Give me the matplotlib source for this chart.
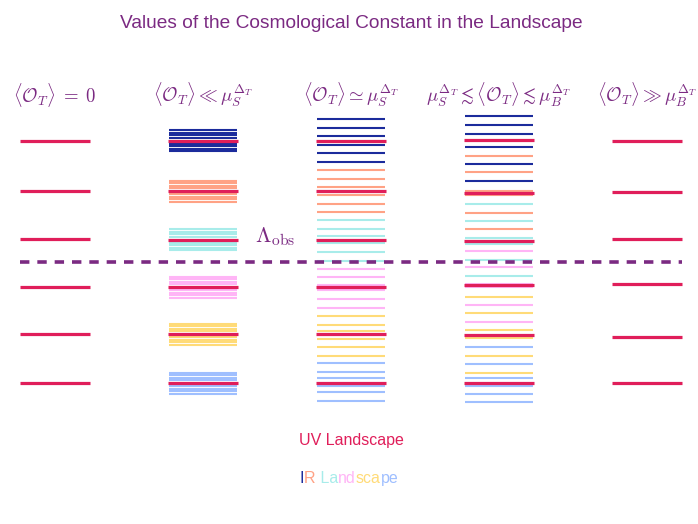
import numpy as np
import matplotlib
matplotlib.use("Agg")
import matplotlib.pyplot as plt

plt.rcParams['font.family'] = ['Liberation Sans', 'DejaVu Sans']
plt.rcParams['mathtext.fontset'] = 'cm'

# energy levels relative to the observed value (Lambda_obs = 0)
uv_levels = [
    [121.3, 71.3, 23.3, -25.0, -72.0, -120.7],
    [121.3, 71.0, 22.3, -25.3, -72.3, -121.3],
    [121.3, 70.7, 22.0, -24.7, -72.3, -120.7],
    [121.7, 69.0, 21.3, -23.0, -73.3, -121.0],
    [121.0, 69.7, 23.3, -22.3, -74.7, -121.0],
]

# IR levels per column: dark blue, salmon, cyan, pink, yellow, light blue
ir_col2 = [
    [131.8, 129.3, 126.8, 124.3, 118.3, 115.8, 113.3, 110.8],
    [81.5, 79.0, 76.5, 74.0, 68.0, 65.5, 63.0, 60.5],
    [32.8, 30.3, 27.8, 25.3, 19.3, 16.8, 14.3, 11.8],
    [-14.8, -17.3, -19.8, -22.3, -28.3, -30.8, -33.3, -35.8],
    [-61.8, -64.3, -66.8, -69.3, -75.3, -77.8, -80.3, -82.8],
    [-110.8, -113.3, -115.8, -118.3, -124.3, -126.8, -129.3, -131.8],
]
ir_col3 = [
    [143.0, 134.3, 125.7, 117.3, 108.7, 100.0],
    [92.0, 83.3, 74.7, 67.3, 58.3, 49.7],
    [42.0, 33.3, 26.0, 18.7, 10.0, 1.5],
    [-6.5, -15.0, -22.5, -28.0, -37.0, -45.7],
    [-53.7, -62.7, -69.0, -76.7, -85.3, -93.7],
    [-101.3, -110.0, -116.3, -123.7, -130.3, -138.7],
]
ir_col4 = [
    [145.7, 136.7, 128.0, 115.0, 97.7, 81.0],
    [106.0, 90.0, 71.0, 67.0, 49.3, 32.7],
    [57.7, 41.3, 24.3, 18.3, 2.5, -14.3],
    [11.0, -5.3, -21.7, -25.0, -43.0, -59.7],
    [-34.7, -50.7, -67.7, -76.3, -93.7, -110.7],
    [-85.3, -101.7, -116.3, -124.3, -131.7, -139.7],
]
ir_columns = {1: ir_col2, 2: ir_col3, 3: ir_col4}

headers = [
    r'$\langle \mathcal{O}_T \rangle \;=\; 0$',
    r'$\langle \mathcal{O}_T \rangle \ll \mu_S^{\Delta_T}$',
    r'$\langle \mathcal{O}_T \rangle \simeq \mu_S^{\Delta_T}$',
    r'$\mu_S^{\Delta_T} \lesssim \langle \mathcal{O}_T \rangle \lesssim \mu_B^{\Delta_T}$',
    r'$\langle \mathcal{O}_T \rangle \gg \mu_B^{\Delta_T}$',
]
lambda_obs = 0.0

ir_colors = ['#1b2b9c', '#ffa285', '#a8ecea', '#ffb5f6', '#ffdb78', '#9fbfff']
ir_pieces = ['I', 'R', ' La', 'nd', 'sca', 'pe']
red = '#e01e5a'
purple = '#7b2a82'

fig = plt.figure(figsize=(6.98, 5.24), dpi=100)
ax = fig.add_axes([0, 0, 1, 1])
ax.set_xlim(-0.3716, 4.345)
ax.set_ylim(-262, 262)
ax.axis('off')

hw = 0.23
for c, cols in ir_columns.items():
    for color, levels in zip(ir_colors, cols):
        for lv in levels:
            ax.plot([c - hw, c + hw], [lv, lv], color=color, lw=1.5,
                    solid_capstyle='butt', zorder=2)

for c, levels in enumerate(uv_levels):
    w = 0.236
    for lv in levels:
        ax.plot([c - w, c + w], [lv, lv], color=red, lw=2.3,
                solid_capstyle='butt', zorder=3)

ax.plot([-0.236, 4.236], [lambda_obs, lambda_obs], color=purple, lw=2.6,
        dashes=(2.6, 2.2), zorder=4)
ax.text(1.49, lambda_obs + 25, r'$\Lambda_{\mathrm{obs}}$', color=purple,
        fontsize=16, ha='center', va='center')

for c, h in enumerate(headers):
    ax.text(c, 167, h, color=purple, fontsize=13.5, ha='center', va='center')

ax.text(2.0, 238, 'Values of the Cosmological Constant in the Landscape',
        color=purple, fontsize=13.8, ha='center', va='center')
ax.text(2.0, -179, 'UV Landscape', color=red, fontsize=11.5,
        ha='center', va='center')

# IR Landscape, one colour per piece, laid out on a common baseline
pieces = [ax.text(0, -221, t, color=col, fontsize=11.5, ha='left',
                  va='baseline', transform=ax.transData)
          for t, col in zip(ir_pieces, ir_colors)]
fig.canvas.draw()
r = fig.canvas.get_renderer()
widths = [p.get_window_extent(r).width for p in pieces]
x_px = fig.bbox.width / 2 - sum(widths) / 2
inv = ax.transData.inverted()
for p, wpx in zip(pieces, widths):
    p.set_x(inv.transform((x_px, 0))[0])
    x_px += wpx

fig.savefig('out.png', dpi=100)
